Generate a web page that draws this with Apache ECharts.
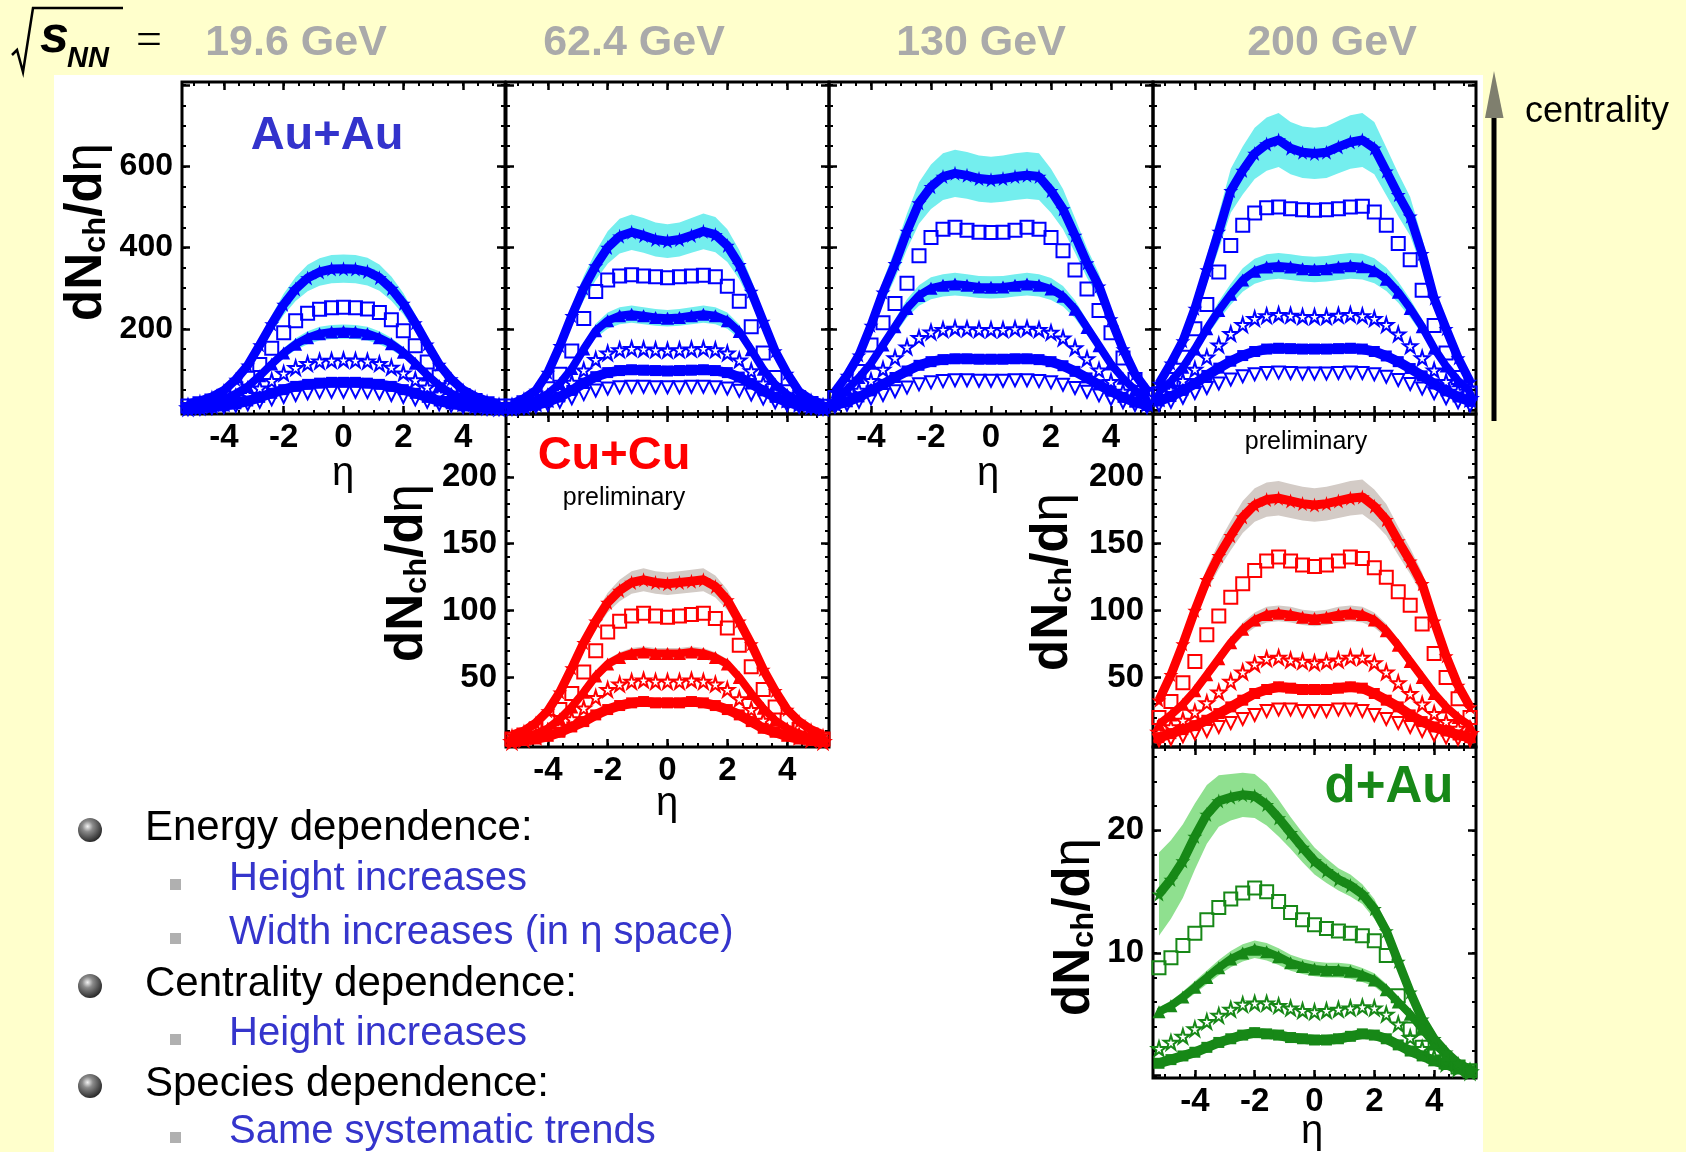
<!DOCTYPE html>
<html>
<head>
<meta charset="utf-8">
<title>dNch/deta systematics</title>
<script src="https://cdn.jsdelivr.net/npm/echarts@6.0.0/dist/echarts.min.js"></script>
<style>
html,body{margin:0;padding:0;background:#FFFFCC;overflow:hidden;}
#chart{width:1686px;height:1152px;}
</style>
</head>
<body>
<div id="chart"></div>
<script>
// ---------------- data ----------------
const ETA = [-5.2,-4.8,-4.4,-4.0,-3.6,-3.2,-2.8,-2.4,-2.0,-1.6,-1.2,-0.8,-0.4,0,0.4,0.8,1.2,1.6,2.0,2.4,2.8,3.2,3.6,4.0,4.4,4.8,5.2];
const X_TICKS = [-4,-2,0,2,4];
const Y_TICKS_AUAU = [200,400,600];
const Y_TICKS_CUCU = [50,100,150,200];
const Y_TICKS_DAU = [10,20];
const ENERGY_LABELS = ['19.6 GeV','62.4 GeV','130 GeV','200 GeV'];

// Au+Au 19.6 GeV (most central first)
const AU196_1 = [15,22,32,48,75,110,160,212,260,298,325,340,347,348,347,341,326,299,262,214,162,112,76,49,33,22,15];
const AU196_2 = [10,15,22,33,52,78,112,152,190,220,238,248,252,253,252,249,240,222,195,158,118,82,55,35,23,15,10];
const AU196_3 = [8,12,17,26,40,58,84,113,140,162,178,188,192,193,192,188,178,163,142,115,86,60,41,27,17,12,8];
const AU196_4 = [5,8,12,18,27,38,54,72,90,104,114,120,122,123,122,120,114,105,91,74,56,39,28,18,12,8,5];
const AU196_5 = [3,5,7,10,15,22,31,41,50,58,63,66,68,68,68,66,63,58,50,41,31,22,15,10,7,5,3];
const AU196_6 = [2,3,5,7,10,14,20,26,32,37,41,44,45,45,45,44,41,37,32,26,20,14,10,7,5,3,2];
// Au+Au 62.4 GeV
const AU624_1 = [15,28,48,92,158,232,300,355,400,428,438,430,420,416,420,430,440,432,405,358,292,218,145,90,45,25,14];
const AU624_2 = [10,18,30,52,88,145,225,292,320,330,333,330,328,326,328,330,332,328,305,268,205,140,80,45,27,16,9];
const AU624_3 = [8,14,24,40,65,102,150,195,220,232,236,232,228,226,228,232,236,232,220,193,148,100,63,38,23,14,8];
const AU624_4 = [6,10,17,28,45,68,98,124,140,148,151,150,148,147,148,150,151,148,140,123,96,66,44,27,16,10,6];
const AU624_5 = [4,7,12,20,32,48,66,82,92,97,99,98,97,96,97,98,99,97,92,81,65,47,31,19,12,7,4];
const AU624_6 = [3,5,8,13,20,29,39,48,53,56,57,57,56,56,56,57,57,56,53,47,38,28,19,12,8,5,3];
// Au+Au 130 GeV
const AU130_1 = [45,85,135,208,290,360,440,510,550,575,583,578,570,567,570,575,578,575,540,495,430,362,305,224,150,88,48];
const AU130_2 = [30,55,95,160,215,262,312,380,425,445,450,443,438,437,438,443,450,445,425,392,345,298,245,190,128,75,38];
const AU130_3 = [30,50,80,115,160,205,250,282,300,307,310,307,303,302,303,307,310,307,298,280,248,203,158,113,78,49,29];
const AU130_4 = [18,30,48,72,100,128,155,178,192,198,201,200,198,198,198,200,201,198,191,177,153,126,98,70,46,29,17];
const AU130_5 = [12,20,32,47,63,80,96,110,119,124,126,126,125,125,125,126,126,124,119,109,95,79,62,46,31,19,11];
const AU130_6 = [8,13,20,28,37,46,55,63,68,71,73,73,72,72,72,73,73,71,68,62,54,45,36,27,19,12,7];
// Au+Au 200 GeV
const AU200_1 = [65,115,170,250,345,440,540,590,632,655,665,645,635,632,635,648,660,665,645,588,530,477,385,275,200,128,70];
const AU200_2 = [40,75,130,200,260,340,405,455,485,498,500,496,493,492,493,496,500,502,488,455,410,370,295,208,140,80,42];
const AU200_3 = [45,70,105,150,200,245,285,320,342,352,355,352,348,346,348,352,355,353,343,322,290,250,205,152,108,72,46];
const AU200_4 = [30,48,72,100,130,160,188,210,225,232,235,233,230,230,230,233,235,232,225,210,187,158,128,98,70,46,28];
const AU200_5 = [22,33,48,65,85,103,120,134,144,150,152,151,150,150,150,151,152,150,144,133,119,102,84,64,47,32,21];
const AU200_6 = [12,20,30,42,54,65,75,83,88,91,92,91,90,90,90,91,92,91,88,82,74,64,53,41,29,19,11];
// Cu+Cu 62.4 GeV
const CU624_1 = [7,10,16,25,39,57,76,92,106,115,121,123,121,120,121,122,123,118,108,92,75,56,40,26,17,11,7];
const CU624_2 = [4,7,11,17,26,38,54,70,84,92,96,98,96,95,96,97,98,94,87,74,58,41,28,18,11,7,4];
const CU624_3 = [3,5,8,12,19,28,39,51,60,65,68,69,68,68,68,69,68,65,60,50,38,27,18,12,8,5,3];
const CU624_4 = [2,4,6,9,13,19,27,35,41,45,47,48,47,47,47,48,47,45,41,34,26,18,13,9,6,4,2];
const CU624_5 = [2,3,4,6,9,13,17,22,26,29,31,32,31,31,31,32,31,29,26,22,17,12,9,6,4,3,2];
// Cu+Cu 200 GeV
const CU200_1 = [33,52,75,100,123,141,156,170,179,183,184,182,180,179,180,182,184,185,178,168,152,137,120,92,66,44,28];
const CU200_2 = [20,32,46,62,82,96,110,120,130,137,140,137,134,133,134,137,140,139,132,125,114,104,90,68,50,34,20];
const CU200_3 = [15,22,30,40,52,64,76,86,93,97,98,97,95,94,95,97,98,97,93,85,74,62,50,38,28,20,14];
const CU200_4 = [9,13,18,24,31,39,47,54,60,64,65,63,62,61,62,63,65,65,61,54,46,38,30,23,17,12,8];
const CU200_5 = [5,8,11,14,18,23,28,33,38,41,43,42,41,41,41,42,43,42,38,33,28,22,17,13,10,7,5];
const CU200_6 = [3,4,6,8,10,13,16,19,22,25,26,26,25,25,25,26,26,25,22,19,16,13,10,7,5,4,3];
// d+Au 200 GeV
const DAU_1 = [14.8,16.0,17.5,19.5,21.3,22.4,22.7,22.9,22.8,22.1,21.0,19.8,18.6,17.5,16.7,16.0,15.5,14.8,13.6,11.8,9.3,6.8,4.6,3.0,1.9,1.0,0.5];
const DAU_2 = [8.8,9.6,10.6,11.6,12.7,13.7,14.4,14.9,15.3,15.0,14.2,13.3,12.7,12.3,12.0,11.8,11.6,11.4,11.0,9.8,6.5,3.8,2.3,1.6,1.1,0.7,0.4];
const DAU_3 = [5.2,5.7,6.4,7.2,8.0,8.8,9.5,10.0,10.3,10.1,9.7,9.2,8.9,8.7,8.6,8.6,8.5,8.2,7.8,7.0,6.0,5.0,3.8,2.6,1.7,1.0,0.5];
const DAU_4 = [2.2,2.7,3.2,3.8,4.4,4.9,5.4,5.8,5.9,5.9,5.7,5.5,5.3,5.2,5.3,5.4,5.5,5.6,5.5,5.0,4.2,3.1,2.2,1.5,1.0,0.6,0.3];
const DAU_5 = [1.0,1.3,1.6,1.9,2.3,2.7,3.0,3.3,3.5,3.4,3.3,3.1,3.0,2.9,2.9,3.0,3.2,3.4,3.3,3.0,2.5,2.0,1.6,1.2,0.9,0.6,0.4];
// systematic-error band half widths (absolute) for d+Au most central
const DAU_1_ERR = [3.4,3.2,3.0,2.7,2.4,2.1,1.9,1.8,1.8,1.7,1.5,1.3,1.2,1.1,1.0,0.9,0.9,0.8,0.8,0.7,0.6,0.5,0.4,0.3,0.2,0.2,0.1];
// relative systematic errors (bands drawn only where non-zero)
const SYS_AUAU = [0.10,0,0.09,0,0,0];
const SYS_CUCU = [0.07,0,0.06,0,0,0];
const SYS_DAU = [DAU_1_ERR,0,0.07,0,0.10];

const BULLETS = [
  [0,'Energy dependence:'],
  [1,'Height increases'],
  [1,'Width increases (in \u03b7 space)'],
  [0,'Centrality dependence:'],
  [1,'Height increases'],
  [0,'Species dependence:'],
  [1,'Same systematic trends']
];

// ---------------- styling / layout ----------------
const FONT = '"Liberation Sans", Arial, Helvetica, sans-serif';
const XMIN = -5.4, XMAX = 5.4;
const COL = {
  au: {mark:'#0000FF', band:'#74EEEE'},
  cu: {mark:'#FF0000', band:'#D3CBC6'},
  dau:{mark:'#178817', band:'#8FE08F'}
};
const STAR = 'path://M50,0L61,35L98,35L68,57L79,91L50,70L21,91L32,57L2,35L39,35Z';
const SQUARE = 'path://M0,0L10,0L10,10L0,10Z';
const TRI_UP = 'path://M5,0L10,9L0,9Z';
const TRI_DOWN = 'path://M0,0L10,0L5,9Z';
const MARKERS = [
  {sym:STAR, size:15, filled:true, lw:9},
  {sym:SQUARE, size:13, filled:false},
  {sym:TRI_UP, size:13, filled:true, lw:8},
  {sym:STAR, size:14, filled:false},
  {sym:SQUARE, size:11, filled:true, lw:10},
  {sym:TRI_DOWN, size:12, filled:false}
];

const PANELS = [
  {left:182, top:82, width:323, height:332, ymin:-10, ymax:808, yMajor:[0,200,400,600,800], yStep:50, yLabels:Y_TICKS_AUAU, lf:32, xLabels:true, col:COL.au, data:[AU196_1,AU196_2,AU196_3,AU196_4,AU196_5,AU196_6], sys:SYS_AUAU},
  {left:506, top:82, width:323, height:332, ymin:-10, ymax:808, yMajor:[0,200,400,600,800], yStep:50, yLabels:null, lf:32, xLabels:false, col:COL.au, data:[AU624_1,AU624_2,AU624_3,AU624_4,AU624_5,AU624_6], sys:SYS_AUAU},
  {left:829, top:82, width:324, height:332, ymin:-10, ymax:808, yMajor:[0,200,400,600,800], yStep:50, yLabels:null, lf:32, xLabels:true, col:COL.au, data:[AU130_1,AU130_2,AU130_3,AU130_4,AU130_5,AU130_6], sys:SYS_AUAU},
  {left:1153, top:82, width:323, height:332, ymin:-10, ymax:808, yMajor:[0,200,400,600,800], yStep:50, yLabels:null, lf:32, xLabels:false, col:COL.au, data:[AU200_1,AU200_2,AU200_3,AU200_4,AU200_5,AU200_6], sys:SYS_AUAU},
  {left:506, top:414, width:323, height:333, ymin:-2, ymax:247, yMajor:[0,50,100,150,200], yStep:10, yLabels:Y_TICKS_CUCU, lf:33, xLabels:true, col:COL.cu, data:[CU624_1,CU624_2,CU624_3,CU624_4,CU624_5], sys:SYS_CUCU},
  {left:1153, top:414, width:323, height:333, ymin:-2, ymax:247, yMajor:[0,50,100,150,200], yStep:10, yLabels:Y_TICKS_CUCU, lf:33, xLabels:false, col:COL.cu, data:[CU200_1,CU200_2,CU200_3,CU200_4,CU200_5,CU200_6], sys:SYS_CUCU},
  {left:1153, top:747, width:323, height:331, ymin:-0.2, ymax:26.8, yMajor:[0,10,20], yStep:2, yLabels:Y_TICKS_DAU, lf:33, xLabels:true, col:COL.dau, data:[DAU_1,DAU_2,DAU_3,DAU_4,DAU_5], sys:SYS_DAU}
];

const X_MINOR = [];
for (let v = -10; v <= 10; v++) X_MINOR.push(v * 0.5);

function xAxisDef(gi, pos, ticks, len, labels) {
  return {
    type:'value', gridIndex:gi, position:pos, min:XMIN, max:XMAX,
    axisLine:{show:false, onZero:false}, splitLine:{show:false}, minorTick:{show:false},
    axisTick:{show:true, inside:true, length:len, customValues:ticks, lineStyle:{color:'#000', width: len > 5 ? 2.5 : 2}},
    axisLabel: labels ? {show:true, customValues:labels, margin:7, color:'#000', fontSize:33, fontWeight:'bold', fontFamily:FONT} : {show:false}
  };
}
function yAxisDef(gi, pos, p, ticks, len, labels) {
  return {
    type:'value', gridIndex:gi, position:pos, min:p.ymin, max:p.ymax,
    axisLine:{show:false, onZero:false}, splitLine:{show:false}, minorTick:{show:false},
    axisTick:{show:true, inside:true, length:len, customValues:ticks, lineStyle:{color:'#000', width: len > 5 ? 2.5 : 2}},
    axisLabel: labels ? {show:true, customValues:labels, margin:9, color:'#000', fontSize:p.lf, fontWeight:'bold', fontFamily:FONT} : {show:false}
  };
}

const grids = [], xAxes = [], yAxes = [], series = [];
PANELS.forEach((p, gi) => {
  grids.push({left:p.left, top:p.top, width:p.width, height:p.height, show:true, borderColor:'#000', borderWidth:3, backgroundColor:'transparent'});
  const xi = xAxes.length;
  xAxes.push(xAxisDef(gi, 'bottom', X_TICKS, 8, p.xLabels ? X_TICKS : null));
  xAxes.push(xAxisDef(gi, 'bottom', X_MINOR, 4, null));
  xAxes.push(xAxisDef(gi, 'top', X_TICKS, 8, null));
  xAxes.push(xAxisDef(gi, 'top', X_MINOR, 4, null));
  const yMinor = [];
  for (let k = 0; k * p.yStep <= p.ymax; k++) yMinor.push(k * p.yStep);
  const yi = yAxes.length;
  yAxes.push(yAxisDef(gi, 'left', p, p.yMajor, 8, p.yLabels));
  yAxes.push(yAxisDef(gi, 'left', p, yMinor, 4, null));
  yAxes.push(yAxisDef(gi, 'right', p, p.yMajor, 8, null));
  yAxes.push(yAxisDef(gi, 'right', p, yMinor, 4, null));

  // systematic bands
  p.data.forEach((vals, s) => {
    const sy = p.sys[s];
    if (!sy) return;
    const lo = vals.map((v, i) => Array.isArray(sy) ? v - sy[i] : v * (1 - sy));
    const hi = vals.map((v, i) => Array.isArray(sy) ? v + sy[i] : v * (1 + sy));
    series.push({
      type:'custom', xAxisIndex:xi, yAxisIndex:yi, z:1, silent:true, clip:false,
      data: ETA.map((e, i) => [e, vals[i]]),
      renderItem: (params, api) => {
        if (params.dataIndex !== 0) return null;
        const pts = [];
        for (let i = 0; i < ETA.length; i++) pts.push(api.coord([ETA[i], hi[i]]));
        for (let i = ETA.length - 1; i >= 0; i--) pts.push(api.coord([ETA[i], lo[i]]));
        return {type:'polygon', shape:{points:pts}, style:{fill:p.col.band}};
      }
    });
  });
  // data points (most central drawn last)
  for (let s = p.data.length - 1; s >= 0; s--) {
    const mk = MARKERS[s];
    const c = p.col.mark;
    series.push({
      type:'line', xAxisIndex:xi, yAxisIndex:yi, z:3, clip:false, silent:true,
      data: ETA.map((e, i) => [e, p.data[s][i]]),
      symbol: mk.sym, symbolSize: mk.size, showAllSymbol:true,
      itemStyle: mk.filled ? {color:c} : {color:'rgba(255,255,255,0)', borderColor:c, borderWidth:2},
      lineStyle: mk.filled ? {color:c, width:mk.lw} : {width:0, opacity:0},
      emphasis:{disabled:true}
    });
  }
});

// ---------------- graphics (text, decorations) ----------------
function T(x, y, text, font, fill, align, extra) {
  const el = {type:'text', x:x, y:y, z:50, style:{text:text, font:font, fill:fill, align:align || 'center', verticalAlign:'middle'}};
  return Object.assign(el, extra || {});
}
function yTitle(x, y) {
  return {type:'text', x:x, y:y, rotation:Math.PI/2, z:50, style:{
    text:'{a|dN}{b|ch}{a|/d}{e|\u03b7}', align:'center', verticalAlign:'middle',
    rich:{
      a:{fontSize:51, fontWeight:'bold', fontFamily:FONT, fill:'#000', lineHeight:56, verticalAlign:'bottom'},
      b:{fontSize:31, fontWeight:'bold', fontFamily:FONT, fill:'#000', lineHeight:22, verticalAlign:'bottom'},
      e:{fontSize:51, fontWeight:'normal', fontFamily:FONT, fill:'#000', lineHeight:56, verticalAlign:'bottom'}
    }}};
}
const G = [];
G.push({type:'rect', z:-100, shape:{x:54, y:75, width:1429, height:1077}, style:{fill:'#FFFFFF'}});
// sqrt(s_NN) =
G.push({type:'polyline', z:50, shape:{points:[[12,55],[17,50],[23,72],[33,8],[123,8]]}, style:{stroke:'#000', lineWidth:2.5, fill:null}});
G.push(T(40, 38, 's', 'italic bold 52px ' + FONT, '#000', 'left'));
G.push(T(67, 59, 'NN', 'italic bold 29px ' + FONT, '#000', 'left'));
G.push(T(136, 42, '=', '46px "Liberation Serif", serif', '#000', 'left'));
const EX = [296, 634, 981, 1332];
ENERGY_LABELS.forEach((t, i) => G.push(T(EX[i], 43, t, 'bold 43px ' + FONT, '#AAAAAA')));
// species labels
G.push(T(327, 136, 'Au+Au', 'bold 47px ' + FONT, '#3333CC'));
G.push(T(614, 456, 'Cu+Cu', 'bold 47px ' + FONT, '#FF0000'));
G.push(T(624, 498, 'preliminary', '25px ' + FONT, '#000'));
G.push(T(1306, 442, 'preliminary', '25px ' + FONT, '#000'));
G.push(T(1389, 788, 'd+Au', 'bold 51px ' + FONT, '#178817'));
// y titles
G.push(yTitle(84, 232));
G.push(yTitle(405, 573));
G.push(yTitle(1050, 582));
G.push(yTitle(1072, 927));
// eta titles
G.push(T(343, 474, '\u03b7', '40px ' + FONT, '#000'));
G.push(T(988, 474, '\u03b7', '40px ' + FONT, '#000'));
G.push(T(667, 804, '\u03b7', '40px ' + FONT, '#000'));
G.push(T(1312, 1132, '\u03b7', '40px ' + FONT, '#000'));
// centrality arrow
G.push({type:'rect', z:50, shape:{x:1491.5, y:115, width:5, height:306}, style:{fill:'#000'}});
G.push({type:'polygon', z:50, shape:{points:[[1494,71],[1485,118],[1503.5,118]]}, style:{fill:'#7F7F6E'}});
G.push(T(1525, 112, 'centrality', '36px ' + FONT, '#000', 'left'));
// bullets
const BY = [828, 879, 933, 984, 1034, 1084, 1132];
BULLETS.forEach((b, i) => {
  if (b[0] === 0) {
    G.push({type:'circle', z:50, shape:{cx:90, cy:BY[i] + 2, r:12}, style:{
      fill: new echarts.graphic.RadialGradient(0.4, 0.35, 0.75, [
        {offset:0, color:'#F2F2F2'}, {offset:0.3, color:'#8A8A8A'}, {offset:1, color:'#151515'}])}});
    G.push(T(145, BY[i], b[1], '42px ' + FONT, '#000', 'left'));
  } else {
    G.push({type:'rect', z:50, shape:{x:170, y:BY[i] + 0, width:11, height:11}, style:{fill:'#B0B0B0'}});
    G.push(T(229, BY[i], b[1], '40px ' + FONT, '#3535CC', 'left'));
  }
});

const chart = echarts.init(document.getElementById('chart'), null, {renderer:'canvas', width:1686, height:1152});
chart.setOption({
  animation:false,
  backgroundColor:'#FFFFCC',
  grid:grids, xAxis:xAxes, yAxis:yAxes, series:series,
  graphic:{elements:G}
});
</script>
</body>
</html>
